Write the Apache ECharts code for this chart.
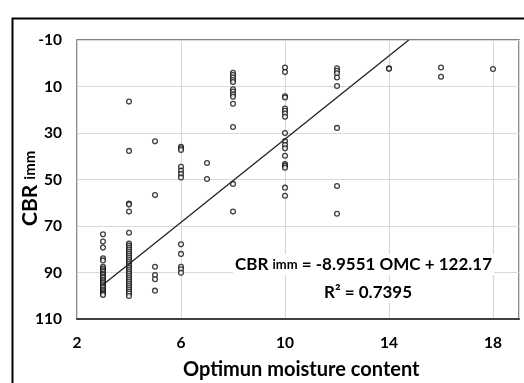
<!DOCTYPE html>
<html><head><meta charset="utf-8">
<script src="https://cdn.jsdelivr.net/npm/echarts@6/dist/echarts.min.js"></script>
<style>html,body{margin:0;padding:0;background:#fff}#c{width:524px;height:383px}</style>
</head><body><div id="c"></div>
<script>
// Data (x = optimum moisture content, y = CBR imm)
const omc3 = [73.6, 76.7, 79.3, 83.9, 84.8, 87.5, 88.3, 89.0, 89.6, 90.4, 91.0, 91.7, 92.3, 93.1, 93.8, 94.4, 95.2, 95.9, 96.5, 97.3, 98.0, 98.6, 99.2, 99.7];
const omc4 = [16.5, 37.7, 60.3, 60.8, 63.8, 72.9, 77.5, 78.4, 79.3, 80.1, 81.0, 81.8, 82.7, 83.6, 84.4, 85.3, 86.1, 87.0, 87.9, 88.7, 89.6, 90.4, 91.3, 92.2, 93.0, 93.9, 94.7, 95.6, 96.5, 97.3, 98.2, 99.0, 100.1];
const omc5 = [33.6, 56.7, 87.5, 91.1, 92.9, 97.8];
const omc6 = [35.9, 36.6, 37.3, 44.5, 46.2, 47.6, 49.1, 77.9, 82.0, 87.5, 88.6, 90.1];
const omc7 = [42.9, 49.8];
const omc8 = [4.1, 5.1, 6.1, 7.2, 8.1, 11.2, 12.2, 13.4, 14.4, 17.4, 27.4, 51.9, 63.8];
const omc10 = [1.8, 3.8, 14.2, 14.7, 19.5, 20.4, 21.6, 23.0, 30.0, 33.5, 35.2, 36.6, 39.8, 43.4, 44.1, 44.9, 53.5, 57.0];
const omc12 = [2.2, 3.2, 4.3, 6.1, 9.8, 27.8, 52.8, 64.7];
const omc14 = [2.2, 2.4];
const omc16 = [1.8, 5.8];
const omc18 = [2.5];
const groups = [[3, omc3], [4, omc4], [5, omc5], [6, omc6], [7, omc7], [8, omc8], [10, omc10], [12, omc12], [14, omc14], [16, omc16], [18, omc18]];
// Trendline endpoints (CBR imm = -8.9551 OMC + 122.17)
const trendX = [3, 14.76];
const trendY = [95.3, -10];
const xTicks = [2, 6, 10, 14, 18];
const yTicks = [-10, 10, 30, 50, 70, 90, 110];

const pts = [];
groups.forEach(([x, ys]) => ys.forEach(y => pts.push([x, y])));
const trend = trendX.map((x, i) => [x, trendY[i]]);

const FONT = 'Lato';
const chart = echarts.init(document.getElementById('c'), null, {renderer: 'canvas'});
chart.setOption({
  animation: false,
  backgroundColor: '#fff',
  grid: {left: 77, top: 40, width: 442, height: 279, show: true, borderColor: '#595959', borderWidth: 1.5, containLabel: false},
  xAxis: {
    type: 'value', min: 2, max: 19, interval: 4,
    axisLine: {show: true, onZero: false, lineStyle: {color: '#404040', width: 2}},
    axisTick: {show: false},
    splitLine: {show: true, lineStyle: {color: '#d9d9d9', width: 1.2}},
    axisLabel: {show: true, color: '#000', fontFamily: FONT, fontWeight: 'bold', fontSize: 15.5, margin: 16,
      formatter: v => xTicks.includes(v) ? String(v) : ''}
  },
  yAxis: {
    type: 'value', inverse: true, min: -10, max: 110, interval: 20,
    axisLine: {show: false, onZero: false}, axisTick: {show: false},
    splitLine: {show: true, lineStyle: {color: '#d9d9d9', width: 1.2}},
    axisLabel: {color: '#000', fontFamily: FONT, fontWeight: 'bold', fontSize: 15.5, margin: 15,
      formatter: v => yTicks.includes(v) ? String(v) : ''}
  },
  series: [
    {type: 'scatter', data: pts, symbol: 'circle', symbolSize: 4.8,
     itemStyle: {color: '#fff', borderColor: '#111', borderWidth: 1.3}, z: 3},
    {type: 'line', data: trend, showSymbol: false, symbol: 'none',
     lineStyle: {color: '#222', width: 1.3}, z: 4}
  ],
  graphic: [
    {type: 'rect', left: 10, top: 16, shape: {width: 540, height: 400},
     style: {fill: 'none', stroke: '#000', lineWidth: 2}, z: 100},
    {type: 'text', x: 183, y: 370, z: 50,
     style: {text: 'Optimun moisture content', fontFamily: FONT, fontWeight: 'bold', fontSize: 20,
       fill: '#000', align: 'left', verticalAlign: 'middle'}},
    {type: 'text', x: 30, y: 226, rotation: Math.PI / 2, z: 50,
     style: {text: '{a|CBR }{b|imm}', align: 'left', verticalAlign: 'middle',
       rich: {
         a: {fontFamily: FONT, fontWeight: 'bold', fontSize: 21, fill: '#000'},
         b: {fontFamily: FONT, fontWeight: 'bold', fontSize: 15, fill: '#000'}
       }}},
    {type: 'text', left: 233, top: 254, z: 50,
     style: {text: '{a|CBR }{b|imm}{a| = -8.9551 OMC + 122.17}',
       backgroundColor: '#fff', padding: [2, 2],
       rich: {
         a: {fontFamily: FONT, fontWeight: 'bold', fontSize: 17, fill: '#000', backgroundColor: '#fff'},
         b: {fontFamily: FONT, fontWeight: 'bold', fontSize: 13, fill: '#000', backgroundColor: '#fff'}
       }}},
    {type: 'text', left: 322, top: 282, z: 50,
     style: {text: 'R² = 0.7395', fontFamily: FONT, fontWeight: 'bold', fontSize: 17, fill: '#000',
       backgroundColor: '#fff', padding: [2, 2]}}
  ]
});
</script></body></html>
